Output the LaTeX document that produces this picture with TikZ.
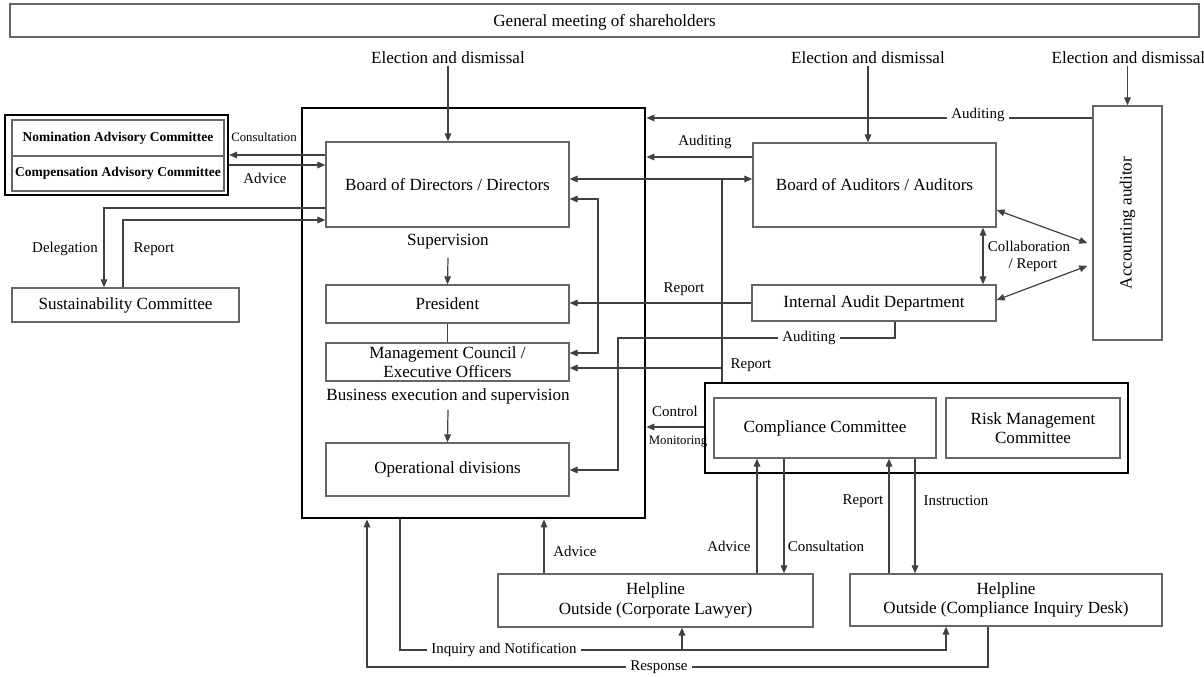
\documentclass[tikz,border=0pt]{standalone}
\usepackage{fontspec}
\setmainfont{Liberation Serif}
\usetikzlibrary{arrows.meta,fit}
\newcommand\mainfs{\fontsize{12.8}{14.5}\selectfont}
\newcommand\connfs{\fontsize{11.2}{12.8}\selectfont}
\newcommand\smallfs{\fontsize{9.6}{11}\selectfont}
\newcommand\boldfs{\fontsize{10.1}{12}\selectfont\bfseries}
\begin{document}
\begin{tikzpicture}[x=0.75pt,y=-0.75pt,
 box/.style={draw=black!60, line width=1pt, inner sep=0pt},
 thickbox/.style={draw=black, line width=2.2pt, inner sep=0pt},
 conn/.style={draw=black!75, line width=0.9pt},
 arr/.style={conn, -{Triangle[length=6pt,width=5pt]}},
 darr/.style={conn, {Triangle[length=6pt,width=5pt]}-{Triangle[length=6pt,width=5pt]}},
 lbl/.style={inner sep=1pt, font=\mainfs, align=center},
 clbl/.style={inner sep=1pt, font=\connfs, align=center},
 blbl/.style={inner sep=1pt, font=\boldfs, align=center},
 slbl/.style={inner sep=1pt, font=\smallfs},
 gap/.style={fill=white, inner sep=3pt, font=\connfs}]
\useasboundingbox (0,0) rectangle (1204,677);
% boxes
\node[box, fit={(10,4)(1199,37)}, label={[lbl, yshift=-1.5pt]center:General meeting of shareholders}] (gm) {};
\node[thickbox, fit={(302,108)(645,518)}] (big) {};
\node[box, fit={(326,142)(569,227)}, label={[lbl]center:Board of Directors / Directors}] (bod) {};
\node[box, fit={(326,285)(569,323)}, label={[lbl]center:President}] (pres) {};
\node[box, fit={(326,343)(569,381)}, label={[lbl]center:Management Council /\\Executive Officers}] (mc) {};
\node[box, fit={(326,443)(569,496)}, label={[lbl]center:Operational divisions}] (ops) {};
\node[thickbox, line width=1.8pt, fit={(5,115)(228,195)}] (ncframe) {};
\node[box, fit={(12,120)(224,156)}, label={[blbl]center:Nomination Advisory Committee}] (nom) {};
\node[box, fit={(12,156)(224,191)}, label={[blbl]center:Compensation Advisory Committee}] (comp) {};
\node[box, fit={(12,288)(239,322)}, label={[lbl]center:Sustainability Committee}] (sus) {};
\node[box, fit={(753,143)(996,227)}, label={[lbl]center:Board of Auditors / Auditors}] (boa) {};
\node[box, fit={(752,285)(996,321)}, label={[lbl]center:Internal Audit Department}] (iad) {};
\node[box, fit={(1093,106)(1162,340)}] (acc) {};
\node[lbl, rotate=90] (acctext) at (acc.center) {Accounting auditor};
\node[thickbox, fit={(705,383)(1128,473)}] (outer) {};
\node[box, fit={(714,398)(936,458)}, label={[lbl]center:Compliance Committee}] (cc) {};
\node[box, fit={(946,398)(1120,458)}, label={[lbl]center:Risk Management\\Committee}] (rm) {};
\node[box, fit={(498,574)(813,627)}, label={[lbl]center:Helpline\\Outside (Corporate Lawyer)}] (hcl) {};
\node[box, fit={(850,574)(1162,626)}, label={[lbl]center:Helpline\\Outside (Compliance Inquiry Desk)}] (hcd) {};
% election labels
\node[lbl] (el1) at (448,58) {Election and dismissal};
\node[lbl] (el2) at (868,58) {Election and dismissal};
\node[lbl, anchor=west] (el3) at (1050,58) {Election and dismissal};
\draw[arr] (el1.south) -- (el1.south |- bod.north);
\draw[arr] (el2.south) -- (el2.south |- boa.north);
\draw[arr] (acc.north |- el3.south) -- (acc.north);
% internal flow
\node[lbl] (sup) at (448,242) {Supervision};
\draw[arr] (448,258) -- (pres.north);
\draw[conn] (pres.south) -- (mc.north);
\node[lbl] (bes) at (448,396) {Business execution and supervision};
\draw[arr] (448,410) -- (ops.north);
% nomination / compensation
\draw[arr] (bod.west |- 0,155) -- (ncframe.east |- 0,155);
\node[slbl] (consl) at (264,137) {Consultation};
\draw[arr] (ncframe.east |- 0,165) -- (bod.west |- 0,165);
\node[clbl] (advl) at (265,178) {Advice};
% sustainability
\draw[arr] (bod.west |- 0,208) -| (sus.north -| 104,0);
\draw[arr] (sus.north -| 123,0) |- (bod.west |- 0,220);
\node[clbl] (delg) at (65,249) {Delegation};
\node[clbl] (repl1) at (154,249) {Report};
% auditing lines
\draw[arr] (acc.west |- 0,118) -- (big.east |- 0,118);
\node[gap] (aud1) at (978,115) {Auditing};
\draw[arr] (boa.west |- 0,157) -- (big.east |- 0,157);
\node[clbl] (aud2) at (705,142) {Auditing};
\draw[darr] (bod.east |- 0,179) -- (boa.west |- 0,179);
\draw[darr] (bod.east |- 0,199) -- (598,199) -- (598,353) -- (mc.east |- 0,353);
\draw[conn] (outer.north -| 722,0) -- (722,179);
\draw[arr] (722,368) -- (mc.east |- 0,368);
\node[clbl] (repl2) at (751,365) {Report};
\draw[arr] (iad.west |- 0,303) -- (pres.east |- 0,303);
\node[clbl] (repl3) at (684,289) {Report};
\draw[arr] (iad.south -| 895,0) -- (895,338) -- (618,338) -- (618,470) -- (ops.east |- 0,470);
\node[gap] (aud3) at (809,338) {Auditing};
\draw[darr] (boa.south -| 983,0) -- (iad.north -| 983,0);
\node[clbl] (collab) at (1029,256) {Collaboration\\\hspace*{6pt}/ Report};
\draw[darr, shorten >=4pt] (boa.east |- 0,210) -- (acc.west |- 0,245);
\draw[darr, shorten >=4pt] (iad.east |- 0,300) -- (acc.west |- 0,264);
% control
\draw[arr] (outer.west |- 0,427) -- (big.east |- 0,427);
\node[clbl] (ctrl) at (675,411) {Control};
\node[slbl] (mon) at (678,442) {Monitoring};
% bottom
\draw[arr] (hcl.north -| 544,0) -- (big.south -| 544,0);
\node[clbl] (adv2) at (575,551) {Advice};
\draw[arr] (hcl.north -| 757,0) -- (cc.south -| 757,0);
\node[clbl] (adv3) at (729,546) {Advice};
\draw[arr] (cc.south -| 784,0) -- (hcl.north -| 784,0);
\node[clbl] (cons2) at (826,546) {Consultation};
\draw[arr] (hcd.north -| 889,0) -- (cc.south -| 889,0);
\node[clbl] (rep4) at (863,501) {Report};
\draw[arr] (cc.south -| 915,0) -- (hcd.north -| 915,0);
\node[clbl] (instr) at (956,501) {Instruction};
\draw[arr] (big.south -| 400,0) -- (400,650) -| (hcd.south -| 946,0);
\draw[arr] (682,650) -- (hcl.south -| 682,0);
\node[gap] (inq) at (504,650) {Inquiry and Notification};
\draw[arr] (hcd.south -| 988,0) -- (988,667) -- (367,667) -- (big.south -| 367,0);
\node[gap] (resp) at (659,667) {Response};
\end{tikzpicture}
\end{document}
